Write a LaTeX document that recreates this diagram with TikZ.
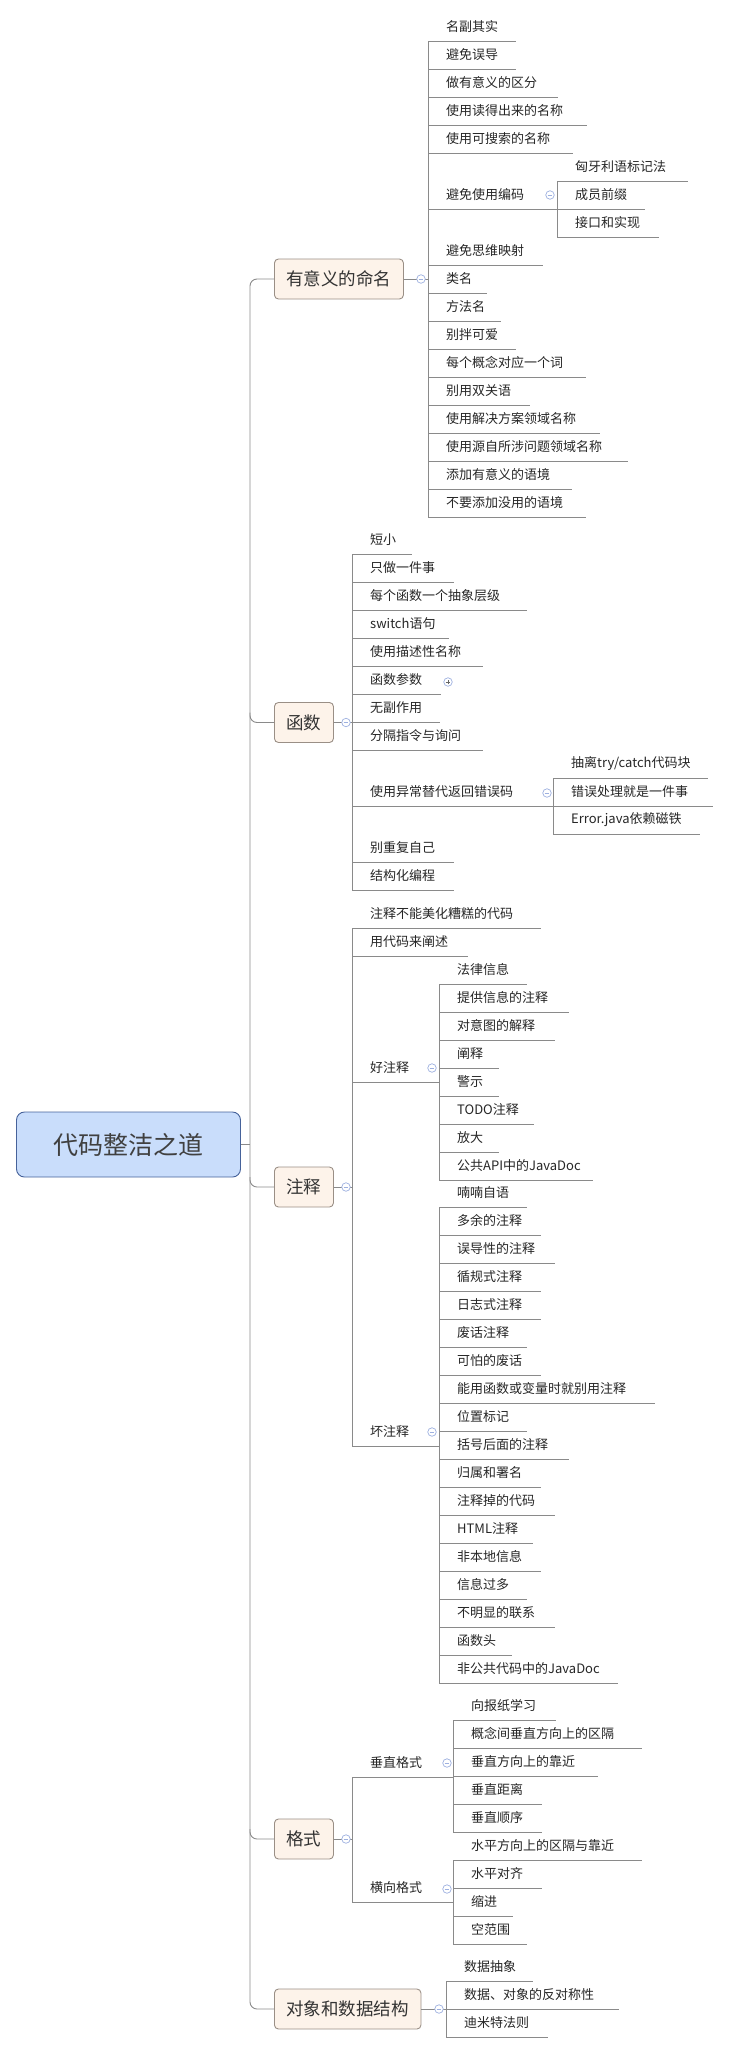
\documentclass[tikz,border=0pt]{standalone}
\usepackage{fontspec}
\newfontfamily\cjk{Noto Sans CJK SC}
\definecolor{linec}{HTML}{8A8A8A}
\definecolor{boxfill}{HTML}{FDF3EA}
\definecolor{boxdraw}{HTML}{9A8F86}
\definecolor{rootfill}{HTML}{C9DDFB}
\definecolor{rootdraw}{HTML}{46629A}
\definecolor{collc}{HTML}{9DB0E0}
\tikzset{
  conn/.style={draw=linec, line width=0.9pt},
  leaf/.style={anchor=south west, inner sep=0pt, minimum height=28pt, text width=#1pt, align=left,
    font=\cjk\fontsize{13}{15}\selectfont, text=black!85, execute at begin node=\hspace*{18pt}},
  branch/.style={draw=boxdraw, fill=boxfill, rounded corners=4pt, line width=0.9pt, minimum height=40pt,
    anchor=west, inner xsep=12pt, font=\cjk\fontsize{17.5}{20}\selectfont, text=black!80},
  rootbox/.style={draw=rootdraw, fill=rootfill, rounded corners=8pt, line width=0.9pt,
    minimum width=224pt, minimum height=65pt, font=\cjk\fontsize{25}{28}\selectfont, text=black!75},
  coll/.style={circle, draw=collc, fill=white, line width=0.7pt, minimum size=8.5pt, inner sep=0pt,
    path picture={\draw[collc,line width=0.7pt] ([xshift=-2.3pt]path picture bounding box.center) -- ([xshift=2.3pt]path picture bounding box.center);}},
  expd/.style={coll, path picture={\draw[black!60,line width=0.7pt] ([xshift=-2.3pt]path picture bounding box.center) -- ([xshift=2.3pt]path picture bounding box.center) ([yshift=-2.3pt]path picture bounding box.center) -- ([yshift=2.3pt]path picture bounding box.center);}}
}
\newcommand\lf[4]{\node[leaf=#3] (#1) at #2 {#4}; \draw[conn] (#1.south west) -- (#1.south east);}
\begin{document}
\begin{tikzpicture}[x=1pt,y=-1pt]
\useasboundingbox (0,0) rectangle (729,2053);
% root and branches
\node[rootbox] (root) at (128.5,1144.5) {代码整洁之道};
\node[branch] (b1) at (274,279) {有意义的命名};
\node[branch] (b2) at (274,722.5) {函数};
\node[branch] (b3) at (274,1187) {注释};
\node[branch] (b4) at (274,1839) {格式};
\node[branch] (b5) at (274,2009) {对象和数据结构};
\coordinate (tt) at (250,279);
\coordinate (tb) at (250,2009);
\draw[conn, rounded corners=7pt] (b1.west) -- (tt) -- (tb) -- (b5.west);
\draw[conn, rounded corners=7pt] (b2.west) -- (b2.west -| tt) -- ++(0,-10);
\draw[conn, rounded corners=7pt] (b3.west) -- (b3.west -| tt) -- ++(0,-10);
\draw[conn, rounded corners=7pt] (b4.west) -- (b4.west -| tt) -- ++(0,-10);
\draw[conn] (root.east) -- (root.east -| tt);

% ---- section 1
\lf{a1}{(428,41)}{88}{名副其实}
\lf{a2}{(428,69)}{88}{避免误导}
\lf{a3}{(428,97)}{130}{做有意义的区分}
\lf{a4}{(428,125)}{159}{使用读得出来的名称}
\lf{a5}{(428,153)}{145}{使用可搜索的名称}
\lf{a6}{(428,209)}{129}{避免使用编码}
\lf{a7}{(428,265)}{115}{避免思维映射}
\lf{a8}{(428,293)}{59}{类名}
\lf{a9}{(428,321)}{73}{方法名}
\lf{a10}{(428,349)}{88}{别拌可爱}
\lf{a11}{(428,377)}{158}{每个概念对应一个词}
\lf{a12}{(428,405)}{102}{别用双关语}
\lf{a13}{(428,433)}{172}{使用解决方案领域名称}
\lf{a14}{(428,461)}{200}{使用源自所涉问题领域名称}
\lf{a15}{(428,489)}{144}{添加有意义的语境}
\lf{a16}{(428,517)}{158}{不要添加没用的语境}
\draw[conn] (a1.south west) -- (a16.south west);
\draw[conn] (b1.east) -- (b1.east -| a1.south west);
\node[coll] (c1) at (421,279) {};
\lf{a61}{(557,181)}{131}{匈牙利语标记法}
\lf{a62}{(557,209)}{88}{成员前缀}
\lf{a63}{(557,237)}{102}{接口和实现}
\draw[conn] (a61.south west) -- (a63.south west);
\node[coll] (c6) at (550,195) {};

% ---- section 2
\lf{f1}{(352,554)}{60}{短小}
\lf{f2}{(352,582)}{102}{只做一件事}
\lf{f3}{(352,610)}{175}{每个函数一个抽象层级}
\lf{f4}{(352,638)}{97}{switch语句}
\lf{f5}{(352,666)}{131}{使用描述性名称}
\lf{f6}{(352,694)}{89}{函数参数}
\lf{f7}{(352,722)}{88}{无副作用}
\lf{f8}{(352,750)}{131}{分隔指令与询问}
\lf{f9}{(352,806)}{201}{使用异常替代返回错误码}
\lf{f10}{(352,862)}{102}{别重复自己}
\lf{f11}{(352,890)}{102}{结构化编程}
\draw[conn] (f1.south west) -- (f11.south west);
\draw[conn] (b2.east) -- (b2.east -| f1.south west);
\node[coll] (c2) at (346,722.5) {};
\node[expd] (e6) at (448,682) {};
\lf{f91}{(553,778)}{155}{抽离try/catch代码块}
\lf{f92}{(553,806)}{160}{错误处理就是一件事}
\lf{f93}{(553,834)}{147}{Error.java依赖磁铁}
\draw[conn] (f91.south west) -- (f93.south west);
\node[coll] (c9) at (547,793) {};

% ---- section 3
\lf{n1}{(352,928)}{189}{注释不能美化糟糕的代码}
\lf{n2}{(352,956)}{116}{用代码来阐述}
\lf{n3}{(352,1082)}{87}{好注释}
\lf{n4}{(352,1446)}{87}{坏注释}
\draw[conn] (n1.south west) -- (n4.south west);
\draw[conn] (b3.east) -- (b3.east -| n1.south west);
\node[coll] (c3) at (346,1187) {};
\node[coll] (c31) at (432,1068) {};
\node[coll] (c32) at (432,1432) {};
\lf{g1}{(439,984)}{88}{法律信息}
\lf{g2}{(439,1012)}{130}{提供信息的注释}
\lf{g3}{(439,1040)}{116}{对意图的解释}
\lf{g4}{(439,1068)}{60}{阐释}
\lf{g5}{(439,1096)}{60}{警示}
\lf{g6}{(439,1124)}{95}{TODO注释}
\lf{g7}{(439,1152)}{60}{放大}
\lf{g8}{(439,1180)}{154}{公共API中的JavaDoc}
\draw[conn] (g1.south west) -- (g8.south west);
\lf{h1}{(439,1207)}{88}{喃喃自语}
\lf{h2}{(439,1235)}{102}{多余的注释}
\lf{h3}{(439,1263)}{116}{误导性的注释}
\lf{h4}{(439,1291)}{102}{循规式注释}
\lf{h5}{(439,1319)}{102}{日志式注释}
\lf{h6}{(439,1347)}{88}{废话注释}
\lf{h7}{(439,1375)}{102}{可怕的废话}
\lf{h8}{(439,1403)}{216}{能用函数或变量时就别用注释}
\lf{h9}{(439,1431)}{88}{位置标记}
\lf{h10}{(439,1459)}{130}{括号后面的注释}
\lf{h11}{(439,1487)}{102}{归属和署名}
\lf{h12}{(439,1515)}{116}{注释掉的代码}
\lf{h13}{(439,1543)}{94}{HTML注释}
\lf{h14}{(439,1571)}{102}{非本地信息}
\lf{h15}{(439,1599)}{88}{信息过多}
\lf{h16}{(439,1627)}{116}{不明显的联系}
\lf{h17}{(439,1655)}{73}{函数头}
\lf{h18}{(439,1683)}{179}{非公共代码中的JavaDoc}
\draw[conn] (h1.south west) -- (h18.south west);

% ---- section 4
\lf{k1}{(352,1777)}{101}{垂直格式}
\lf{k2}{(352,1902)}{101}{横向格式}
\draw[conn] (k1.south west) -- (k2.south west);
\draw[conn] (b4.east) -- (b4.east -| k1.south west);
\node[coll] (c4) at (346,1839) {};
\node[coll] (c41) at (447,1763) {};
\node[coll] (c42) at (447,1889) {};
\lf{v1}{(453,1720)}{103}{向报纸学习}
\lf{v2}{(453,1748)}{189}{概念间垂直方向上的区隔}
\lf{v3}{(453,1776)}{145}{垂直方向上的靠近}
\lf{v4}{(453,1804)}{89}{垂直距离}
\lf{v5}{(453,1832)}{89}{垂直顺序}
\draw[conn] (v1.south west) -- (v5.south west);
\lf{w1}{(453,1860)}{189}{水平方向上的区隔与靠近}
\lf{w2}{(453,1888)}{89}{水平对齐}
\lf{w3}{(453,1916)}{60}{缩进}
\lf{w4}{(453,1944)}{74}{空范围}
\draw[conn] (w1.south west) -- (w4.south west);

% ---- section 5
\lf{o1}{(446,1981)}{87}{数据抽象}
\lf{o2}{(446,2009)}{173}{数据、对象的反对称性}
\lf{o3}{(446,2037)}{102}{迪米特法则}
\draw[conn] (o1.south west) -- (o3.south west);
\draw[conn] (b5.east) -- (b5.east -| o1.south west);
\node[coll] (c5) at (439,2009) {};
\end{tikzpicture}
\end{document}
